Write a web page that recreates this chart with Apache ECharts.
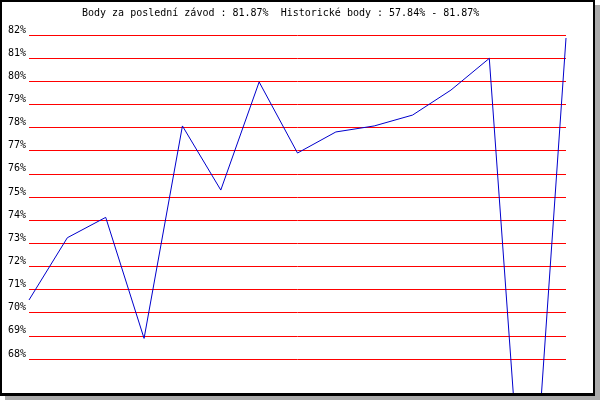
<!DOCTYPE html>
<html>
<head>
<meta charset="utf-8">
<script src="https://cdn.jsdelivr.net/npm/echarts@6/dist/echarts.min.js"></script>
<style>
html,body{margin:0;padding:0;background:#fff;}
#c{width:600px;height:400px;}
</style>
</head>
<body>
<div id="c"></div>
<script>
var titleText = 'Body za poslední závod : 81.87%  Historické body : 57.84% - 81.87%';
var races = ['1','2','3','4','5','6','7','8','9','10','11','12','13','14','15'];
var points = [70.55, 73.24, 74.12, 68.89, 78.07, 75.30, 79.97, 76.90, 77.81, 78.07, 78.54, 79.62, 80.99, 57.84, 81.87];
var yMin = 68, yMax = 82, yStep = 1;

var chart = echarts.init(document.getElementById('c'), null, {renderer: 'canvas'});
var font = 'DejaVu Sans Mono';
chart.setOption({
  animation: false,
  backgroundColor: '#ffffff',
  title: {
    text: titleText,
    left: 82, top: 8,
    padding: 0,
    textStyle: {fontFamily: font, fontSize: 10, fontWeight: 'normal', color: '#000'}
  },
  grid: {left: 29, right: 34, top: 35, bottom: 41, containLabel: false},
  xAxis: {
    type: 'category', data: races, boundaryGap: false, show: false
  },
  yAxis: {
    type: 'value', min: yMin, max: yMax, interval: yStep,
    axisLine: {show: false}, axisTick: {show: false},
    axisLabel: {
      formatter: '{value}%', fontFamily: font, fontSize: 10, color: '#000',
      verticalAlign: 'bottom', margin: 3, lineHeight: 10
    },
    splitLine: {show: true, lineStyle: {color: '#ff0000', width: 1}}
  },
  series: [{
    type: 'line', data: points, clip: false, showSymbol: false, symbol: 'none',
    lineStyle: {color: '#0000cc', width: 1}
  }],
  graphic: [
    {type: 'rect', z: 100, shape: {x: 595, y: 5, width: 5, height: 395}, style: {fill: '#aaaaaa'}},
    {type: 'rect', z: 100, shape: {x: 5, y: 396, width: 595, height: 4}, style: {fill: '#aaaaaa'}},
    {type: 'rect', z: 101, shape: {x: 0, y: 0, width: 2, height: 396}, style: {fill: '#000'}},
    {type: 'rect', z: 101, shape: {x: 0, y: 0, width: 595, height: 2}, style: {fill: '#000'}},
    {type: 'rect', z: 101, shape: {x: 593, y: 0, width: 2, height: 396}, style: {fill: '#000'}},
    {type: 'rect', z: 101, shape: {x: 0, y: 393, width: 595, height: 3}, style: {fill: '#000'}}
  ]
});
</script>
</body>
</html>
